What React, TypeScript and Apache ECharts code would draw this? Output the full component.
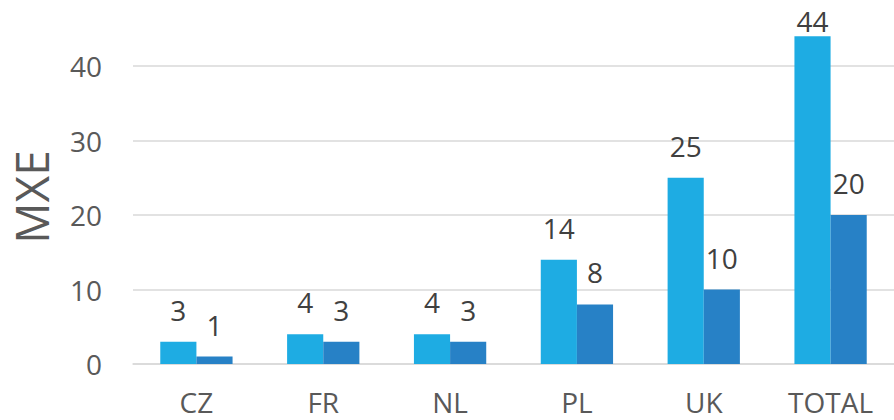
import React, { useEffect, useRef } from "react";
import * as echarts from "echarts";

const categories = ["CZ", "FR", "NL", "PL", "UK", "TOTAL"];
const seriesA = [3, 4, 4, 14, 25, 44];
const seriesB = [1, 3, 3, 8, 10, 20];
const yTicks = [0, 10, 20, 30, 40];
const axisName = "MXE";

const FONT = "'Open Sans', 'Noto Sans', sans-serif";
const TEXT = "#595959";

export default function App() {
  const ref = useRef<HTMLDivElement>(null);
  useEffect(() => {
    if (!ref.current) return;
    const chart = echarts.init(ref.current, null, { renderer: "svg" });
    const labelBase = {
      show: true,
      position: "top",
      distance: 18,
      color: "#404040",
      fontSize: 28,
      fontFamily: FONT,
    };
    chart.setOption({
      animation: false,
      grid: { left: 133, right: 0, top: 0, bottom: 56, containLabel: false },
      xAxis: {
        type: "category",
        data: categories,
        axisLine: { show: true, lineStyle: { color: "#D9D9D9", width: 1.5 } },
        axisTick: { show: false },
        axisLabel: { color: TEXT, fontSize: 28, fontFamily: FONT, margin: 24 },
      },
      yAxis: {
        type: "value",
        min: 0,
        max: 48.86,
        interval: 10,
        axisLine: { show: false },
        axisTick: { show: false },
        axisLabel: {
          color: TEXT,
          fontSize: 28,
          fontFamily: FONT,
          margin: 31,
          showMaxLabel: false,
          formatter: (v: number) => (yTicks.includes(v) ? String(v) : ""),
        },
        splitLine: { showMaxLine: false, lineStyle: { color: "#D9D9D9", width: 1.5 } },
      },
      graphic: [
        {
          type: "text",
          x: 31,
          y: 197,
          rotation: Math.PI / 2,
          style: {
            text: axisName,
            fill: TEXT,
            fontSize: 46,
            fontFamily: FONT,
            textAlign: "center",
            textVerticalAlign: "middle",
          },
        },
      ],
      series: [
        {
          type: "bar",
          data: seriesA.map((v, i) =>
            i === seriesA.length - 1 ? { value: v, label: { distance: 1 } } : v
          ),
          barGap: "0%",
          barCategoryGap: "43%",
          itemStyle: { color: "#1EACE3" },
          label: labelBase,
        },
        {
          type: "bar",
          data: seriesB,
          itemStyle: { color: "#2781C6" },
          label: labelBase,
        },
      ],
    });
    return () => chart.dispose();
  }, []);
  return (
    <div
      ref={ref}
      style={{ position: "fixed", left: 0, top: 0, width: 894, height: 420, background: "#fff" }}
    />
  );
}
